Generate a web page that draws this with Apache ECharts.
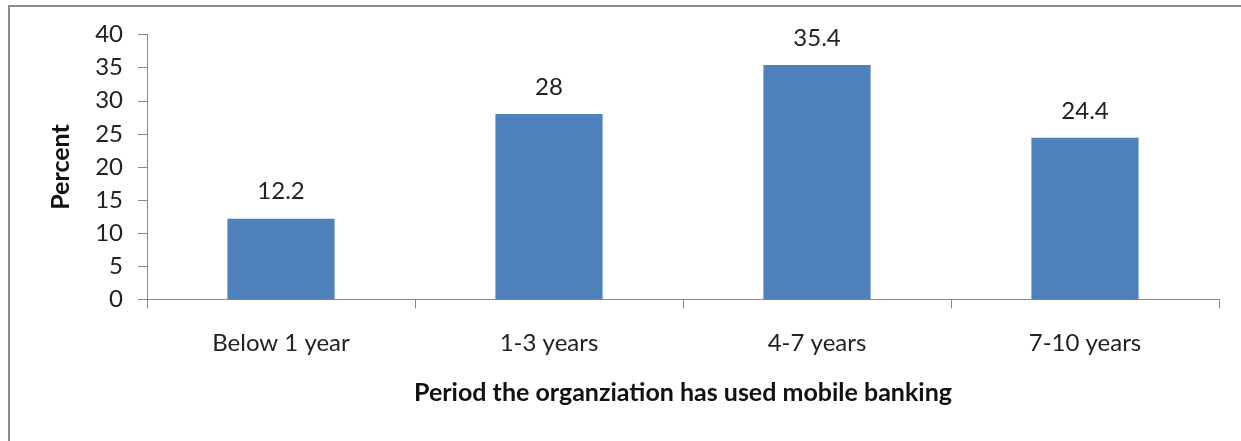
<!DOCTYPE html>
<html>
<head>
<meta charset="utf-8">
<script src="https://cdn.jsdelivr.net/npm/echarts@6/dist/echarts.min.js"></script>
<style>
  html, body { margin: 0; padding: 0; background: #fff; }
  #chart { width: 1241px; height: 441px; }
</style>
</head>
<body>
<div id="chart"></div>
<script>
// period of mobile banking use
const categories = ['Below 1 year', '1-3 years', '4-7 years', '7-10 years'];
const percentValues = [12.2, 28, 35.4, 24.4];
const yTicks = { min: 0, max: 40, interval: 5 };

const barColor = '#4f81bd';
const axisColor = '#888888';
const font = 'Lato, "Open Sans", sans-serif';

const chart = echarts.init(document.getElementById('chart'));

chart.setOption({
  animation: false,
  graphic: [{
    type: 'rect',
    shape: { x: 9, y: 6, width: 1300, height: 500 },
    style: { fill: 'none', stroke: '#8c8c8c', lineWidth: 2 }
  }],
  grid: { left: 147, right: 22, top: 34.5, bottom: 141.5 },
  xAxis: {
    type: 'category',
    data: categories,
    name: 'Period the organziation has used mobile banking',
    nameLocation: 'middle',
    nameGap: 81,
    nameTextStyle: { fontFamily: font, fontSize: 25, fontWeight: 'bold', color: '#111' },
    axisLine: { lineStyle: { color: axisColor, width: 1 } },
    axisTick: { show: true, length: 9, lineStyle: { color: axisColor } },
    axisLabel: { fontFamily: font, fontSize: 24, color: '#222', margin: 32 }
  },
  yAxis: {
    type: 'value',
    min: yTicks.min,
    max: yTicks.max,
    interval: yTicks.interval,
    name: 'Percent',
    nameLocation: 'middle',
    nameGap: 74,
    nameRotate: 90,
    nameTextStyle: { fontFamily: font, fontSize: 25, fontWeight: 'bold', color: '#111' },
    axisLine: { show: true, lineStyle: { color: axisColor, width: 1 } },
    axisTick: { show: true, length: 9, lineStyle: { color: axisColor } },
    axisLabel: { fontFamily: font, fontSize: 24, color: '#222', margin: 24 },
    splitLine: { show: false }
  },
  series: [{
    type: 'bar',
    data: percentValues,
    barCategoryGap: '60%',
    itemStyle: { color: barColor },
    label: {
      show: true,
      position: 'top',
      distance: 15,
      fontFamily: font,
      fontSize: 24,
      color: '#222'
    }
  }]
});
</script>
</body>
</html>
